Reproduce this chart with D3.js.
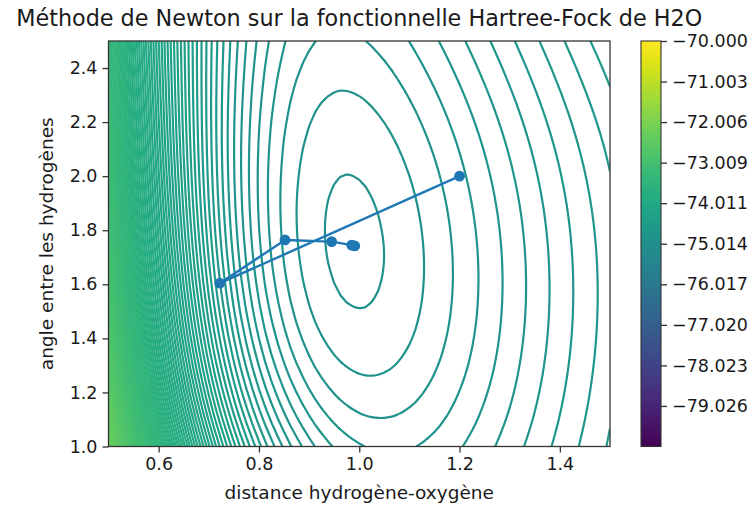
<!DOCTYPE html>
<html><head><meta charset="utf-8">
<script src="https://cdn.jsdelivr.net/npm/d3@7"></script>
<style>
body{margin:0;background:#fff;}
svg{display:block;font-family:"DejaVu Sans",sans-serif;}
</style></head><body>
<svg id="chart" width="755" height="506"></svg>
<script>
// ---------- data ----------
const chartTitle = "Méthode de Newton sur la fonctionnelle Hartree-Fock de H2O";
const xLabel = "distance hydrogène-oxygène";
const yLabel = "angle entre les hydrogènes";

// grid axes of the energy surface
const rValues = [0.50,0.55,0.60,0.65,0.70,0.75,0.80,0.85,0.90,0.95,1.00,1.05,1.10,1.15,1.20,1.25,1.30,1.35,1.40,1.45,1.50];
const thetaValues = [1.0,1.1,1.2,1.3,1.4,1.5,1.6,1.7,1.8,1.9,2.0,2.1,2.2,2.3,2.4,2.5];

// energy above the minimum (Hartree), one row per angle, one column per distance
const energyMin = -74.99053;
const relativeEnergy = [
 [2.72479,2.03626,1.50349,1.09529,0.78642,0.55644,0.38890,0.27049,0.19052,0.14042,0.11330,0.10367,0.10717,0.12033,0.14043,0.16532,0.19332,0.22315,0.25382,0.28458,0.31488],
 [2.56779,1.90396,1.39182,1.00092,0.70655,0.48875,0.33146,0.22168,0.14899,0.10503,0.08311,0.07789,0.08513,0.10147,0.12428,0.15146,0.18144,0.21295,0.24506,0.27705,0.30841],
 [2.43088,1.78911,1.29534,0.91974,0.63814,0.43100,0.28263,0.18032,0.11390,0.07521,0.05773,0.05625,0.06665,0.08566,0.11073,0.13984,0.17145,0.20436,0.23766,0.27067,0.30290],
 [2.31288,1.69084,1.21339,0.85128,0.58086,0.38299,0.24232,0.14641,0.08532,0.05107,0.03729,0.03891,0.05191,0.07311,0.10001,0.13066,0.16358,0.19759,0.23183,0.26564,0.29854],
 [2.21175,1.60746,1.14459,0.79444,0.53385,0.34405,0.21001,0.11956,0.06297,0.03242,0.02170,0.02585,0.04094,0.06386,0.09219,0.12404,0.15795,0.19279,0.22772,0.26211,0.29549],
 [2.12511,1.53699,1.08728,0.74783,0.49594,0.31323,0.18494,0.09916,0.04636,0.01889,0.01067,0.01685,0.03358,0.05783,0.08725,0.11996,0.15458,0.18999,0.22539,0.26016,0.29385],
 [2.05056,1.47734,1.03967,0.70993,0.46587,0.28944,0.16620,0.08446,0.03489,0.00999,0.00381,0.01160,0.02960,0.05485,0.08505,0.11837,0.15345,0.18921,0.22488,0.25985,0.29368],
 [1.98590,1.42663,1.00014,0.67935,0.44243,0.27168,0.15293,0.07475,0.02795,0.00522,0.00072,0.00980,0.02877,0.05475,0.08547,0.11918,0.15452,0.19044,0.22621,0.26122,0.29505],
 [1.92924,1.38320,0.96725,0.65484,0.42455,0.25902,0.14436,0.06935,0.02500,0.00414,0.00103,0.01114,0.03086,0.05735,0.08841,0.12231,0.15774,0.19368,0.22940,0.26432,0.29803],
 [1.87912,1.34573,0.93986,0.63540,0.41135,0.25071,0.13984,0.06772,0.02557,0.00634,0.00443,0.01538,0.03566,0.06250,0.09375,0.12771,0.16311,0.19894,0.23450,0.26922,0.30272],
 [1.83431,1.31319,0.91701,0.62020,0.40213,0.24612,0.13882,0.06941,0.02928,0.01152,0.01066,0.02230,0.04303,0.07010,0.10142,0.13534,0.17061,0.20623,0.24155,0.27599,0.30919],
 [1.79389,1.28471,0.89795,0.60856,0.39627,0.24473,0.14084,0.07399,0.03576,0.01938,0.01946,0.03172,0.05280,0.08003,0.11135,0.14515,0.18021,0.21558,0.25058,0.28469,0.31754],
 [1.75704,1.25954,0.88202,0.59988,0.39322,0.24602,0.14545,0.08109,0.04469,0.02960,0.03057,0.04339,0.06478,0.09212,0.12340,0.15705,0.19186,0.22693,0.26158,0.29532,0.32777],
 [1.72300,1.23701,0.86855,0.59353,0.39241,0.24949,0.15216,0.09024,0.05563,0.04182,0.04365,0.05701,0.07869,0.10612,0.13735,0.17082,0.20539,0.24014,0.27443,0.30778,0.33982],
 [1.69107,1.21641,0.85689,0.58889,0.39324,0.25454,0.16043,0.10093,0.06809,0.05554,0.05823,0.07214,0.09411,0.12165,0.15283,0.18614,0.22046,0.25490,0.28884,0.32181,0.35346],
 [1.66054,1.19698,0.84630,0.58523,0.39500,0.26048,0.16958,0.11249,0.08143,0.07016,0.07374,0.08821,0.11050,0.13817,0.16933,0.20250,0.23661,0.27077,0.30438,0.33700,0.36826]
];

// contour levels (evenly spaced, as on the colour bar)
const levelMin = -80.0286, levelMax = -70.0, levelCount = 301;

// Newton iterates
const newtonR     = [1.200, 0.722, 0.852, 0.945, 0.985, 0.991];
const newtonTheta = [2.000, 1.604, 1.764, 1.758, 1.745, 1.742];

// ticks
const xTicks = [0.6, 0.8, 1.0, 1.2, 1.4];
const xTickLabels = ["0.6","0.8","1.0","1.2","1.4"];
const yTicks = [1.0, 1.2, 1.4, 1.6, 1.8, 2.0, 2.2, 2.4];
const yTickLabels = ["1.0","1.2","1.4","1.6","1.8","2.0","2.2","2.4"];
const cbTicks = [-70.000,-71.003,-72.006,-73.009,-74.011,-75.014,-76.017,-77.020,-78.023,-79.026];
const cbTickLabels = ["\u221270.000","\u221271.003","\u221272.006","\u221273.009","\u221274.011","\u221275.014","\u221276.017","\u221277.020","\u221278.023","\u221279.026"];

// ---------- layout ----------
const plot = {left:108.5, right:610, top:41, bottom:446.5};
const cb = {left:641, right:661, top:41, bottom:446.5};
const axisColor = "#333";
const textColor = "#1a1a1a";
const tickFont = 17.5;

const svg = d3.select("#chart");
const x = d3.scaleLinear([0.5, 1.5], [plot.left, plot.right]);
const y = d3.scaleLinear([1.0, 2.5], [plot.bottom, plot.top]);
const levels = d3.range(levelCount).map(k => levelMin + k * (levelMax - levelMin) / (levelCount - 1));
const color = d3.scaleSequential(d3.interpolateViridis).domain([levelMin, levelMax]);

// ---------- contours (smooth rendering of the tabulated surface) ----------
const SUB = 4; // rendering subdivision of each grid cell
function cubic(p0, p1, p2, p3, t) {
  return 0.5 * (2 * p1 + (-p0 + p2) * t + (2 * p0 - 5 * p1 + 4 * p2 - p3) * t * t + (-p0 + 3 * p1 - 3 * p2 + p3) * t * t * t);
}
function refine(arr) { // arr: 1D samples -> subdivided samples passing through each sample
  const n = arr.length, out = [];
  const at = i => i < 0 ? 2 * arr[0] - arr[1] : i >= n ? 2 * arr[n - 1] - arr[n - 2] : arr[i];
  for (let i = 0; i < n - 1; i++)
    for (let s = 0; s < SUB; s++) out.push(cubic(at(i - 1), at(i), at(i + 1), at(i + 2), s / SUB));
  out.push(arr[n - 1]);
  return out;
}
const rowsFine = relativeEnergy.map(refine);
const nx = rowsFine[0].length;
const colsFine = d3.range(nx).map(i => refine(rowsFine.map(row => row[i])));
const ny = colsFine[0].length;
const values = [];
for (let j = 0; j < ny; j++) for (let i = 0; i < nx; i++) values.push(energyMin + colsFine[i][j]);

const gx = d3.scaleLinear([0.5, nx - 0.5], [rValues[0], rValues[rValues.length - 1]]);
const gy = d3.scaleLinear([0.5, ny - 0.5], [thetaValues[0], thetaValues[thetaValues.length - 1]]);
const contours = d3.contours().size([nx, ny]).thresholds(levels)(values);

const defs = svg.append("defs");
defs.append("clipPath").attr("id","plotClip").append("rect")
  .attr("x", plot.left).attr("y", plot.top)
  .attr("width", plot.right - plot.left).attr("height", plot.bottom - plot.top);
defs.append("clipPath").attr("id","cbClip").append("rect")
  .attr("x", cb.left).attr("y", cb.top)
  .attr("width", cb.right - cb.left).attr("height", cb.bottom - cb.top);

const isBoundary = p => p[0] < 0.25 || p[0] > nx - 0.25 || p[1] < 0.25 || p[1] > ny - 0.25;
function splitRing(ring) {
  const pts = ring.slice(0, ring.length - 1);
  const b = pts.findIndex(isBoundary);
  if (b < 0) return [{closed: true, pts}];
  const rot = pts.slice(b).concat(pts.slice(0, b));
  const out = []; let cur = [];
  for (const p of rot) {
    if (isBoundary(p)) { if (cur.length > 1) out.push({closed: false, pts: cur}); cur = []; }
    else cur.push(p);
  }
  if (cur.length > 1) out.push({closed: false, pts: cur});
  return out;
}
const toPx = p => [x(gx(p[0])), y(gy(p[1]))];
const lineOpen = d3.line().curve(d3.curveCatmullRom.alpha(0.5));
const lineClosed = d3.line().curve(d3.curveCatmullRomClosed.alpha(0.5));

const gC = svg.append("g").attr("clip-path", "url(#plotClip)");
contours.forEach(c => {
  const pieces = [];
  c.coordinates.forEach(poly => poly.forEach(ring => pieces.push(...splitRing(ring))));
  pieces.forEach(pc => {
    const pts = pc.pts.map(toPx);
    gC.append("path")
      .attr("d", pc.closed ? lineClosed(pts) : lineOpen(pts))
      .attr("fill", "none")
      .attr("stroke", color(c.value))
      .attr("stroke-width", 2.2)
      .attr("stroke-linejoin", "round");
  });
});

// ---------- Newton path ----------
const pathPts = newtonR.map((r, i) => [r, newtonTheta[i]]);
gC.append("path")
  .attr("d", d3.line().x(d => x(d[0])).y(d => y(d[1]))(pathPts))
  .attr("fill", "none").attr("stroke", "#1f77b4").attr("stroke-width", 2.4)
  .attr("stroke-linejoin", "round");
gC.selectAll("circle.pt").data(pathPts).join("circle")
  .attr("cx", d => x(d[0])).attr("cy", d => y(d[1])).attr("r", 5.4)
  .attr("fill", "#1f77b4");

// ---------- axes ----------
svg.append("rect").attr("x", plot.left).attr("y", plot.top)
  .attr("width", plot.right - plot.left).attr("height", plot.bottom - plot.top)
  .attr("fill", "none").attr("stroke", axisColor).attr("stroke-width", 1.3);

const xAxis = d3.axisBottom(x).tickValues(xTicks).tickFormat((d, i) => xTickLabels[i]).tickSize(6).tickPadding(5);
const gx1 = svg.append("g").attr("transform", `translate(0,${plot.bottom})`).call(xAxis);
const yAxis = d3.axisLeft(y).tickValues(yTicks).tickFormat((d, i) => yTickLabels[i]).tickSize(6).tickPadding(5);
const gy1 = svg.append("g").attr("transform", `translate(${plot.left},0)`).call(yAxis);
[gx1, gy1].forEach(g => {
  g.select(".domain").remove();
  g.selectAll(".tick line").attr("stroke", axisColor).attr("stroke-width", 1.3);
  g.selectAll(".tick text").attr("fill", textColor).style("font-size", tickFont + "px")
    .style("font-family", '"DejaVu Sans", sans-serif');
});

svg.append("text").attr("x", (plot.left + plot.right) / 2).attr("y", 499)
  .attr("text-anchor", "middle").attr("fill", textColor).style("font-size", "18.5px").text(xLabel);
svg.append("text").attr("transform", `translate(53,${(plot.top + plot.bottom) / 2}) rotate(-90)`)
  .attr("text-anchor", "middle").attr("fill", textColor).style("font-size", "18.5px").text(yLabel);
svg.append("text").attr("x", (plot.left + plot.right) / 2).attr("y", 26)
  .attr("text-anchor", "middle").attr("fill", textColor).style("font-size", "22.3px").text(chartTitle);

// ---------- colour bar ----------
const cy = d3.scaleLinear([levelMin, levelMax], [cb.bottom, cb.top]);
const step = (levelMax - levelMin) / (levelCount - 1);
svg.append("g").attr("clip-path", "url(#cbClip)").selectAll("rect").data(levels).join("rect")
  .attr("x", cb.left).attr("width", cb.right - cb.left)
  .attr("y", d => cy(d + step / 2) - 0.5)
  .attr("height", d => cy(d - step / 2) - cy(d + step / 2) + 1)
  .attr("fill", d => color(d));
svg.append("rect").attr("x", cb.left).attr("y", cb.top)
  .attr("width", cb.right - cb.left).attr("height", cb.bottom - cb.top)
  .attr("fill", "none").attr("stroke", axisColor).attr("stroke-width", 1.1);
const cbAxis = d3.axisRight(cy).tickValues(cbTicks).tickFormat((d, i) => cbTickLabels[i]).tickSize(6).tickPadding(5);
const gcb = svg.append("g").attr("transform", `translate(${cb.right},0)`).call(cbAxis);
gcb.select(".domain").remove();
gcb.selectAll(".tick line").attr("stroke", axisColor).attr("stroke-width", 1.3);
gcb.selectAll(".tick text").attr("fill", textColor).style("font-size", tickFont + "px")
  .style("font-family", '"DejaVu Sans", sans-serif');
</script>
</body></html>
